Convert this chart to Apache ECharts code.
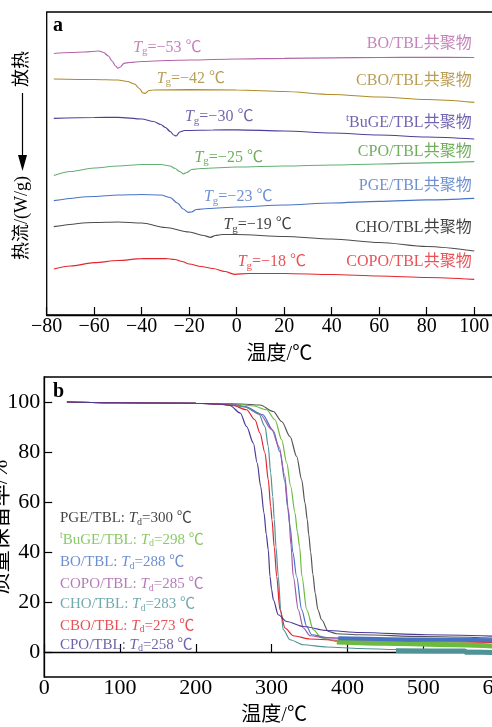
<!DOCTYPE html>
<html><head><meta charset="utf-8">
<script src="https://cdn.jsdelivr.net/npm/echarts@6/dist/echarts.min.js"></script>
<style>html,body{margin:0;padding:0;background:#fff}#c{width:492px;height:727px}</style>
</head><body><div id="c"></div>
<script>
const FONT = "'Liberation Serif','Noto Sans CJK SC',serif";

// ---------- Panel a: DSC (temperature °C, heat flow offset, arbitrary units) ----------
const dscTicks = [-80, -60, -40, -20, 0, 20, 40, 60, 80, 100];
const dscNames = ['BO/TBL共聚物', 'CBO/TBL共聚物', 'BuGE/TBL共聚物', 'CPO/TBL共聚物', 'PGE/TBL共聚物', 'CHO/TBL共聚物', 'COPO/TBL共聚物'];
const dscTg = ['−53', '−42', '−30', '−25', '−23', '−19', '−18'];
const dscBO = [[-77,2.615],[-70,2.625],[-64,2.63],[-58,2.64],[-56,2.625],[-54,2.59],[-52.5,2.54],[-51,2.49],[-50,2.467],[-49,2.48],[-47.5,2.517],[-45,2.525],[-40,2.535],[-30,2.545],[-20,2.55],[0,2.56],[20,2.567],[40,2.572],[60,2.575],[80,2.577],[100,2.575]];
const dscCBO = [[-77,2.36],[-60,2.355],[-50,2.35],[-46,2.335],[-43,2.31],[-41,2.265],[-39.5,2.22],[-38.5,2.217],[-37,2.245],[-35,2.25],[-20,2.253],[0,2.25],[20,2.235],[40,2.205],[60,2.18],[80,2.155],[100,2.127]];
const dscBuGE = [[-77,1.967],[-60,1.975],[-50,1.977],[-40,1.96],[-35,1.935],[-32,1.905],[-30,1.875],[-28,1.835],[-26.5,1.80],[-25.5,1.79],[-24,1.83],[-22,1.845],[-10,1.85],[0,1.852],[20,1.84],[40,1.82],[60,1.80],[80,1.78],[100,1.76]];
const dscCPO = [[-77,1.395],[-70,1.435],[-60,1.47],[-50,1.49],[-40,1.505],[-32,1.505],[-28,1.49],[-26,1.465],[-24,1.435],[-22.5,1.412],[-21,1.425],[-19,1.455],[-15,1.465],[0,1.48],[20,1.49],[40,1.50],[60,1.51],[80,1.522],[100,1.533]];
const dscPGE = [[-77,1.143],[-60,1.185],[-50,1.20],[-40,1.205],[-32,1.20],[-28,1.175],[-25,1.12],[-22.5,1.06],[-20.5,1.027],[-19,1.03],[-17,1.055],[-12,1.065],[0,1.08],[20,1.10],[40,1.12],[60,1.137],[80,1.152],[100,1.167]];
const dscCHO = [[-77,0.883],[-60,0.925],[-50,0.93],[-40,0.92],[-30,0.875],[-20,0.83],[-14,0.795],[-11,0.777],[-9,0.795],[-6,0.805],[0,0.805],[20,0.785],[40,0.76],[60,0.725],[80,0.685],[100,0.64]];
const dscCOPO = [[-77,0.46],[-70,0.49],[-60,0.523],[-50,0.545],[-40,0.563],[-30,0.565],[-26,0.555],[-23,0.535],[-20,0.51],[-15,0.485],[-10,0.465],[-5,0.435],[-1,0.407],[5,0.415],[20,0.415],[40,0.405],[60,0.39],[80,0.375],[100,0.357]];

// ---------- Panel b: TGA (temperature °C, mass retention %) ----------
const tgaXTicks = [0, 100, 200, 300, 400, 500, 600];
const tgaYTicks = [0, 20, 40, 60, 80, 100];
const tgaNames = ['PGE/TBL: ', 'BuGE/TBL: ', 'BO/TBL: ', 'COPO/TBL: ', 'CHO/TBL: ', 'CBO/TBL: ', 'CPO/TBL: '];
const tgaTd = [300, 298, 288, 285, 283, 273, 258];
const tgaPGE = [[30,100],[100,99.7],[200,99.5],[260,99.2],[284.7,98.8],[302.3,96.2],[313.3,92.2],[324.3,86.2],[333.1,78.2],[339.7,68.9],[344.1,59.6],[347.1,52.9],[349,47],[351.5,40],[354.5,31],[357.5,23.6],[361,17],[366,12.9],[374.8,8.2],[385.9,7.3],[416.6,6.9],[500,6.2],[600,5.5]];
const tgaBuGE = [[30,100],[100,99.7],[200,99.5],[250,99.3],[275,98.5],[293.5,96.9],[304.5,92.9],[313.3,84.9],[320,75.6],[325.2,66.2],[330.9,55.6],[334,48],[337,42],[340,30.2],[346.3,16.9],[355,8.9],[366,5.6],[386,4.2],[450,3.6],[600,2.4]];
const tgaBuGETail = [[386,4.0],[450,3.5],[520,3.0],[600,2.3]];
const tgaBO = [[30,100],[100,99.7],[200,99.5],[245,99.3],[265,98.2],[288,95],[302.3,88.5],[311,80],[317.7,68],[321,58],[324.5,50],[328,40],[333,30.2],[339.7,16.9],[346.3,10.2],[352.9,6.9],[372.7,5.8],[388,5.6],[500,5.1],[600,4.7]];
const tgaBOTail = [[388,5.5],[500,5.0],[600,4.7]];
const tgaCOPO = [[30,100],[100,99.7],[200,99.5],[245,99.2],[265,98],[285,95],[300,89],[310,82],[317,71],[322.3,56.9],[325.5,43],[328.6,30.2],[335.2,16.9],[341.8,9.6],[350.7,6.5],[372.7,5.6],[450,4.8],[600,4.2]];
const tgaCHO = [[30,100],[100,99.7],[200,99.5],[243,99],[262.7,98.2],[282.5,95.6],[291.3,90.2],[295.6,82.2],[298.8,71.6],[301.5,62.2],[303.5,53],[305.8,42],[308.8,30.2],[312,16.9],[315.4,8.9],[324.3,4.9],[341.8,2.9],[372.7,2.0],[416.6,1.4],[464,1.0],[600,0.5]];
const tgaCHOTail = [[464,0.5],[555,0.4],[556,-0.1],[600,-0.2]];
const tgaCBO = [[30,100],[100,99.7],[200,99.5],[233,99.1],[249,98.6],[267,96.9],[278,92.9],[284.7,87.6],[291.3,79.6],[295.6,68.9],[298.8,58.2],[300.5,52.9],[303.5,42],[306.7,30.2],[311,16.9],[317.7,9.6],[328.6,6.5],[350.7,5.2],[394.6,4.6],[500,4.1],[600,3.8]];
const tgaCPO = [[30,100],[100,99.7],[200,99.5],[230,99.2],[245,98.6],[258.6,95.6],[267,90.2],[275.9,83.6],[281,75.6],[285.6,66.2],[290,55.6],[293,47],[295.6,40.9],[297.9,30.2],[300,25],[302.3,20.9],[308.8,14.9],[320,12.2],[341.8,10.2],[372.7,8.6],[416.6,7.8],[504.6,6.9],[600,6.3]];

// ---------- layout / style (kept apart from the data) ----------
const dscLineColors = ['#b565a7', '#b08a26', '#4f3f9c', '#63b072', '#4a74c6', '#4d4d4d', '#e4262c'];
const dscTextColors = ['#b565a7', '#a8862e', '#4f3f9c', '#4b9a32', '#4a74c6', '#111111', '#e4262c'];
const dscTgAnchor = [[-43.6,2.675],[-33.7,2.367],[-21.8,1.983],[-17.8,1.575],[-13.8,1.183],[-5.6,0.90],[0.4,0.533]];
const dscNameAnchorX = 98.9;
const dscNameAnchorY = [2.717, 2.34, 1.927, 1.633, 1.293, 0.877, 0.533];
const tgaColors = ['#555555', '#6cbb3f', '#4872c4', '#a35aa6', '#4f9399', '#e3242b', '#4b3a96'];
const tgaTextColors = ['#111111', '#6cbb3f', '#4872c4', '#a35aa6', '#4f9399', '#e3242b', '#4b3a96'];
const tgaLegendX = 20.8;
const tgaLegendY = [53.6, 44.9, 35.8, 27.2, 19.2, 10.5, 2.9];

function rich(color, size) {
  return {
    n: { fontFamily: FONT, fontSize: size, color: color },
    i: { fontFamily: FONT, fontSize: size, color: color, fontStyle: 'italic' },
    s: { fontFamily: FONT, fontSize: Math.round(size * 0.68), color: color, padding: [8, 0, 0, 0] },
    sup: { fontFamily: FONT, fontSize: Math.round(size * 0.68), color: color, padding: [0, 0, 8, 0] }
  };
}
function line(data, color, idx, width) {
  return { type: 'line', xAxisIndex: idx, yAxisIndex: idx, data: data, symbol: 'none', showSymbol: false,
    smooth: 0.3, smoothMonotone: 'x', silent: true, animation: false,
    lineStyle: { color: color, width: width } };
}
function textSeries(idx, items) {
  return { type: 'scatter', xAxisIndex: idx, yAxisIndex: idx, symbolSize: 0, silent: true, animation: false, z: 5, data: items };
}
function textItem(x, y, str, color, size, side) {
  return { value: [x, y], label: { show: true, position: side, distance: 0, formatter: str, rich: rich(color, size) } };
}

const dscData = [dscBO, dscCBO, dscBuGE, dscCPO, dscPGE, dscCHO, dscCOPO];
const tgaData = [tgaPGE, tgaBuGE, tgaBO, tgaCOPO, tgaCHO, tgaCBO, tgaCPO];
const series = [];
dscData.forEach((d, k) => series.push(line(d, dscLineColors[k], 0, 1.2)));
tgaData.forEach((d, k) => series.push(line(d, tgaColors[k], 1, 1.2)));
series.push(line(tgaBuGETail, tgaColors[1], 1, 5));
series.push(line(tgaBOTail, tgaColors[2], 1, 4));
series.push(line(tgaCHOTail, tgaColors[4], 1, 5));

const dscLabelItems = [];
dscNames.forEach((nm, k) => {
  const pre = k === 2 ? '{sup|t}' : '';
  dscLabelItems.push(textItem(dscNameAnchorX, dscNameAnchorY[k], pre + '{n|' + nm + '}', dscTextColors[k], 16, 'left'));
  dscLabelItems.push(textItem(dscTgAnchor[k][0], dscTgAnchor[k][1], '{i|T}{s|g}{n|=' + dscTg[k] + ' ℃}', dscTextColors[k], 16, 'right'));
});
series.push(textSeries(0, dscLabelItems));
const tgaLabelItems = tgaNames.map((nm, k) => {
  const pre = k === 1 ? '{sup|t}' : '';
  return textItem(tgaLegendX, tgaLegendY[k], pre + '{n|' + nm + '}{i|T}{s|d}{n|=' + tgaTd[k] + ' ℃}', tgaTextColors[k], 15, 'right');
});
series.push(textSeries(1, tgaLabelItems));

const axisTxt = { color: '#000', fontFamily: FONT };
const minusFmt = v => (v < 0 ? '−' + Math.abs(v) : String(v));

const option = {
  backgroundColor: '#fff',
  animation: false,
  grid: [
    { left: 46.7, top: 12, right: -6, height: 303, show: true, borderColor: '#000', borderWidth: 1.3, outerBoundsMode: 'none', containLabel: false },
    { left: 44.2, top: 377, right: -7, height: 300, show: true, borderColor: '#000', borderWidth: 1.3, outerBoundsMode: 'none', containLabel: false }
  ],
  xAxis: [
    { type: 'value', gridIndex: 0, min: -80, max: 110,
      axisLine: { show: true, lineStyle: { color: '#000', width: 1.3 } },
      axisTick: { show: true, inside: true, length: 8, customValues: dscTicks, lineStyle: { color: '#000', width: 1.2 } },
      axisLabel: { show: true, customValues: dscTicks, formatter: minusFmt, fontSize: 20, margin: 2, hideOverlap: false, ...axisTxt },
      splitLine: { show: false },
      name: '温度/℃', nameLocation: 'middle', nameGap: 30, nameMoveOverlap: false,
      nameTextStyle: { fontSize: 20, padding: [0, 0, 0, 14], ...axisTxt } },
    { type: 'value', gridIndex: 1, min: 0, max: 600,
      axisLine: { show: true, lineStyle: { color: '#000', width: 1.3 } },
      axisTick: { show: true, inside: true, length: 8, customValues: tgaXTicks, lineStyle: { color: '#000', width: 1.2 } },
      axisLabel: { show: true, customValues: tgaXTicks, fontSize: 22, margin: 0, hideOverlap: false, ...axisTxt },
      splitLine: { show: false },
      name: '温度/℃', nameLocation: 'middle', nameGap: 29, nameMoveOverlap: false,
      nameTextStyle: { fontSize: 20, padding: [0, 0, 0, 5], ...axisTxt } }
  ],
  yAxis: [
    { type: 'value', gridIndex: 0, min: 0, max: 3.03,
      axisLine: { show: false }, axisTick: { show: false }, axisLabel: { show: false }, splitLine: { show: false } },
    { type: 'value', gridIndex: 1, min: -10, max: 110,
      axisLine: { show: true, lineStyle: { color: '#000', width: 1.3 } },
      axisTick: { show: true, inside: true, length: 8, customValues: tgaYTicks, lineStyle: { color: '#000', width: 1.2 } },
      axisLabel: { show: true, customValues: tgaYTicks, fontSize: 22, margin: 4, ...axisTxt },
      splitLine: { show: false },
      name: '质量保留率/%', nameLocation: 'middle', nameGap: 32, nameMoveOverlap: false,
      nameTextStyle: { fontSize: 22, ...axisTxt } }
  ],
  graphic: [
    { type: 'text', x: 53, y: 26, style: { text: 'a', font: "bold 20px 'Liberation Serif'", fill: '#000', textAlign: 'left', textVerticalAlign: 'middle', align: 'left', verticalAlign: 'middle' } },
    { type: 'text', x: 53, y: 392, style: { text: 'b', font: "bold 20px 'Liberation Serif'", fill: '#000', textAlign: 'left', textVerticalAlign: 'middle', align: 'left', verticalAlign: 'middle' } },
    { type: 'text', x: 22.5, y: 218, rotation: Math.PI / 2, style: { text: '热流/(W/g)', font: "18px 'Liberation Serif','Noto Sans CJK SC'", fill: '#000', textAlign: 'center', textVerticalAlign: 'middle', align: 'center', verticalAlign: 'middle' } },
    { type: 'text', x: 22.5, y: 69, rotation: Math.PI / 2, style: { text: '放热', font: "18px 'Liberation Serif','Noto Sans CJK SC'", fill: '#000', textAlign: 'center', textVerticalAlign: 'middle', align: 'center', verticalAlign: 'middle' } },
    { type: 'line', shape: { x1: 22.5, y1: 93, x2: 22.5, y2: 160 }, style: { stroke: '#000', lineWidth: 1.2 } },
    { type: 'polygon', shape: { points: [[18, 155], [27, 155], [22.5, 171]] }, style: { fill: '#000' } }
  ],
  series: series
};

const chart = echarts.init(document.getElementById('c'), null, { renderer: 'canvas', width: 492, height: 727 });
chart.setOption(option);
</script>
</body></html>
